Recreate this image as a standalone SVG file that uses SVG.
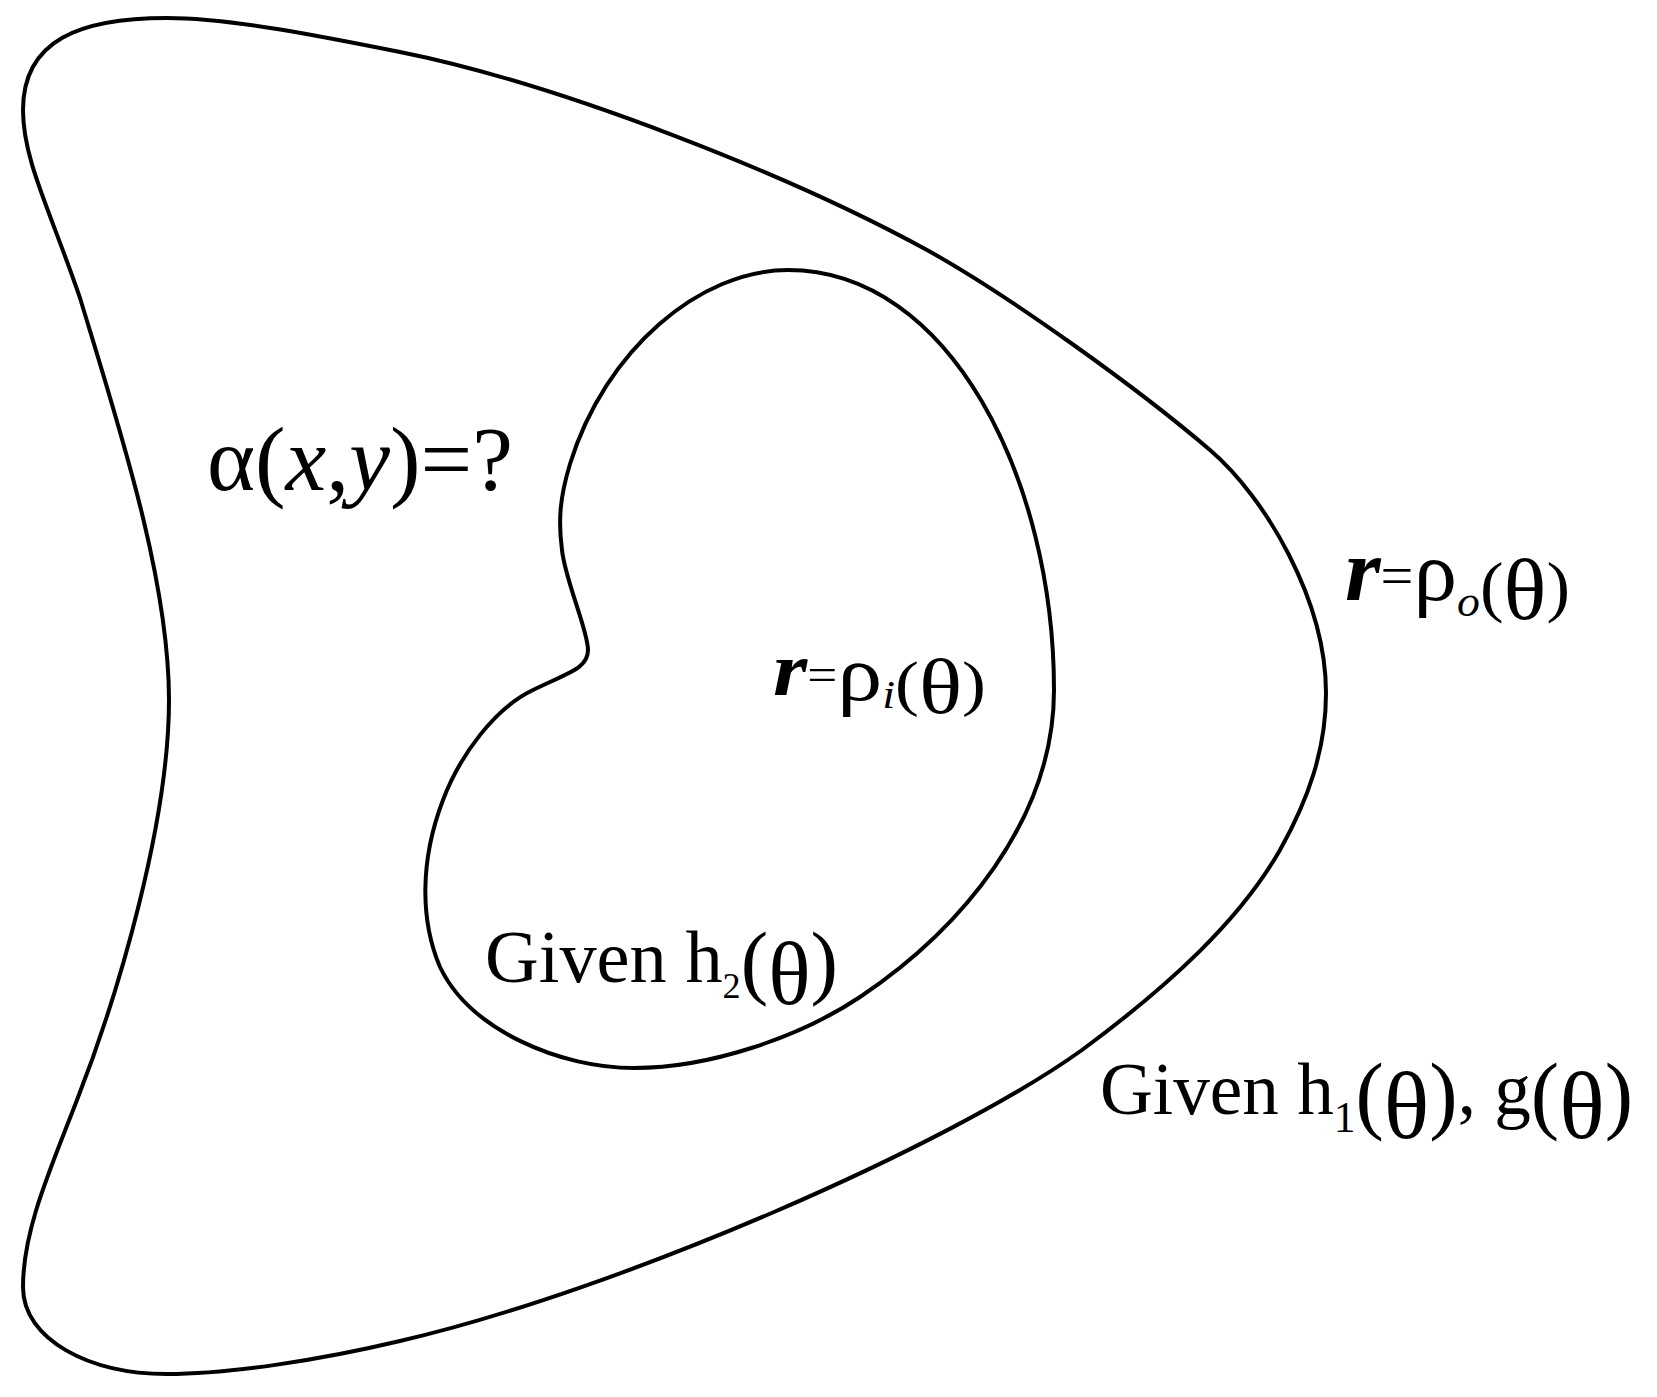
<svg xmlns="http://www.w3.org/2000/svg" width="1657" height="1397" viewBox="0 0 1657 1397">
<style>
.curve{fill:none;stroke:#000;stroke-width:4;stroke-linejoin:round}
.t{font-family:"Liberation Serif","Times New Roman",serif;fill:#000}
.i{font-style:italic}
.bi{font-style:italic;font-weight:bold}
</style>
<rect width="1657" height="1397" fill="#fff"/>
<g id="outer-boundary">
<path class="curve" d="M167,18 C230,18 320,36 400,52 C560,84 790,175 927,250 C1010,296 1140,390 1210,450 C1265,497 1326,600 1326,693 C1326,750 1308,800 1280,850 C1240,920 1170,985 1082,1050 C950,1145 620,1290 400,1341 C320,1360 230,1374 167,1374 C90,1374 23,1340 23,1287 C23,1230 50,1170 77,1100 C120,990 169,820 169,700 C169,580 120,430 80,298 C50,210 23,160 23,110 C23,40 80,18 167,18 Z"/>
</g>
<g id="inner-boundary">
<path class="curve" d="M562,550 C565,580 588,630 588,650 C588,668 570,672 533,690 C495,708 460,755 443,800 C420,860 420,920 440,967 C470,1030 560,1068 634,1068 C710,1068 800,1037 860,997 C960,930 1054,820 1054,690 C1054,480 950,270 788,270 C700,270 605,350 570,464 C560,497 558,520 562,550 Z"/>
</g>
<g id="label-alpha">
<text class="t" font-size="90" x="207" y="490" textLength="306" lengthAdjust="spacingAndGlyphs">α(<tspan class="i">x</tspan>,<tspan class="i">y</tspan>)=?</text>
</g>
<g id="label-rho-o">
<text class="t" x="1345" y="600" textLength="225" lengthAdjust="spacingAndGlyphs"><tspan class="bi" font-size="88">r</tspan><tspan font-size="56" dy="-5">=</tspan><tspan font-size="84" dy="5">ρ</tspan><tspan class="i" font-size="44" dy="16">o</tspan><tspan font-size="68" dy="-7">(</tspan><tspan font-size="86" dy="10">θ</tspan><tspan font-size="68" dy="-10">)</tspan></text>
</g>
<g id="label-rho-i">
<text class="t" x="773" y="695" textLength="213" lengthAdjust="spacingAndGlyphs"><tspan class="bi" font-size="76">r</tspan><tspan font-size="46" dy="-5">=</tspan><tspan font-size="78" dy="10">ρ</tspan><tspan class="i" font-size="40" dy="8">i</tspan><tspan font-size="62" dy="-4">(</tspan><tspan font-size="78" dy="9">θ</tspan><tspan font-size="62" dy="-9">)</tspan></text>
</g>
<g id="label-h2">
<text class="t" x="485" y="982" textLength="353" lengthAdjust="spacingAndGlyphs"><tspan font-size="74">Given h</tspan><tspan font-size="36" dy="16">2</tspan><tspan font-size="82" dy="-9">(</tspan><tspan font-size="88" dy="15">θ</tspan><tspan font-size="82" dy="-15">)</tspan></text>
</g>
<g id="label-h1-g">
<text class="t" x="1100" y="1114" textLength="533" lengthAdjust="spacingAndGlyphs"><tspan font-size="74">Given h</tspan><tspan font-size="44" dy="18">1</tspan><tspan font-size="86" dy="-9">(</tspan><tspan font-size="96" dy="15">θ</tspan><tspan font-size="86" dy="-15">)</tspan><tspan font-size="74" dy="-9">, g</tspan><tspan font-size="86" dy="9">(</tspan><tspan font-size="96" dy="15">θ</tspan><tspan font-size="86" dy="-15">)</tspan></text>
</g>
</svg>
